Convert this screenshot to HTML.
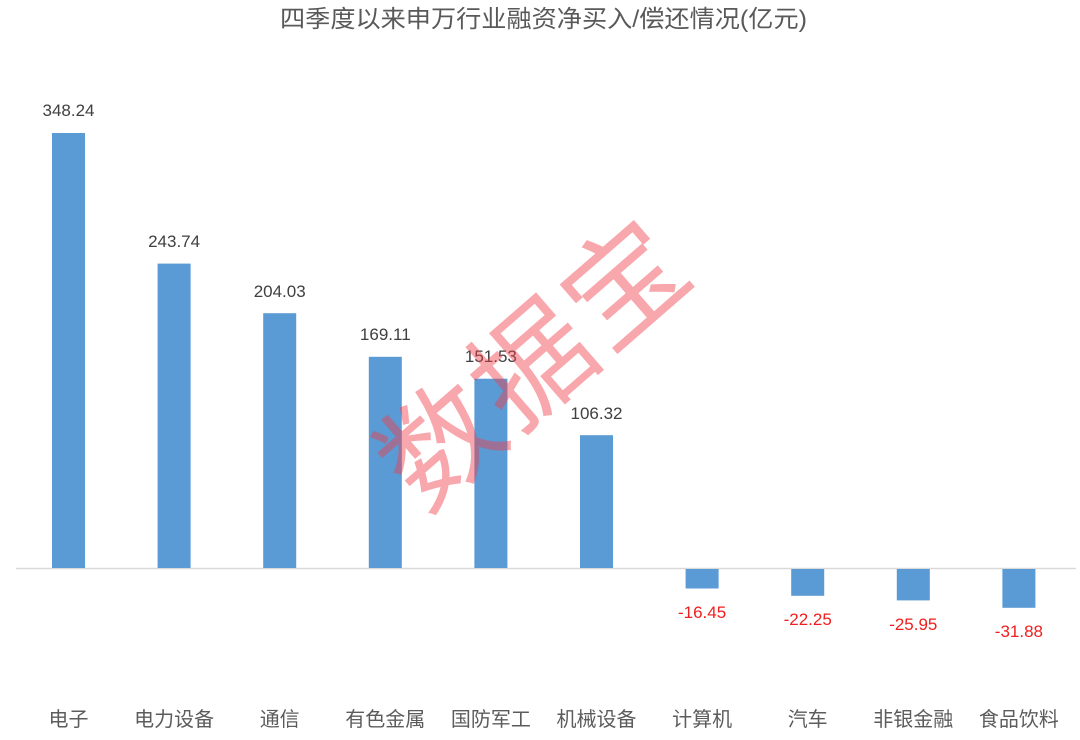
<!DOCTYPE html>
<html>
<head>
<meta charset="utf-8">
<style>
  html, body { margin: 0; padding: 0; background: #ffffff; }
  body { width: 1080px; height: 740px; overflow: hidden; }
  svg { display: block; }
  .t { font-family: "Liberation Sans", "Noto Sans CJK SC", sans-serif; }
  .cjk { font-family: "Liberation Sans", "Noto Sans CJK SC", sans-serif; }
</style>
</head>
<body>
<svg width="1080" height="740" viewBox="0 0 1080 740" xmlns="http://www.w3.org/2000/svg">
  <rect x="0" y="0" width="1080" height="740" fill="#ffffff"/>

  <!-- Title -->
  <text class="cjk" x="280" y="27" font-size="24" fill="#595959" textLength="527" lengthAdjust="spacingAndGlyphs">四季度以来申万行业融资净买入/偿还情况(亿元)</text>

  <!-- Axis line -->
  <line x1="16" y1="568.5" x2="1076" y2="568.5" stroke="#d9d9d9" stroke-width="1.5"/>

  <!-- Bars -->
  <g fill="#5b9bd5">
    <rect x="52" y="133.0" width="33" height="435.0"/>
    <rect x="157.6" y="263.6" width="33" height="304.4"/>
    <rect x="263.2" y="313.2" width="33" height="254.8"/>
    <rect x="368.8" y="356.8" width="33" height="211.2"/>
    <rect x="474.4" y="378.7" width="33" height="189.3"/>
    <rect x="580.0" y="435.2" width="33" height="132.8"/>
    <rect x="685.6" y="569" width="33" height="19.5"/>
    <rect x="791.2" y="569" width="33" height="26.8"/>
    <rect x="896.8" y="569" width="33" height="31.4"/>
    <rect x="1002.4" y="569" width="33" height="38.8"/>
  </g>

  <!-- Value labels -->
  <g class="t" font-size="17" fill="#404040" text-anchor="middle">
    <text x="68.5" y="116">348.24</text>
    <text x="174.1" y="247">243.74</text>
    <text x="279.7" y="297">204.03</text>
    <text x="385.3" y="340">169.11</text>
    <text x="490.9" y="362">151.53</text>
    <text x="596.5" y="419">106.32</text>
  </g>
  <g class="t" font-size="17" fill="#f01e1e" text-anchor="middle">
    <text x="702.1" y="618">-16.45</text>
    <text x="807.7" y="625">-22.25</text>
    <text x="913.3" y="630">-25.95</text>
    <text x="1018.9" y="637">-31.88</text>
  </g>

  <!-- Category labels -->
  <g class="cjk" font-size="20" fill="#5c5c5c" text-anchor="middle">
    <text x="68.5" y="726">电子</text>
    <text x="174.1" y="726">电力设备</text>
    <text x="279.7" y="726">通信</text>
    <text x="385.3" y="726">有色金属</text>
    <text x="490.9" y="726">国防军工</text>
    <text x="596.5" y="726">机械设备</text>
    <text x="702.1" y="726">计算机</text>
    <text x="807.7" y="726">汽车</text>
    <text x="913.3" y="726">非银金融</text>
    <text x="1018.9" y="726">食品饮料</text>
  </g>

  <!-- Watermark -->
  <g transform="translate(534,363) rotate(-41)">
    <text class="cjk" x="0" y="42" font-size="118" fill="rgb(240,60,70)" fill-opacity="0.45" text-anchor="middle" letter-spacing="4">数据宝</text>
  </g>
</svg>
</body>
</html>
